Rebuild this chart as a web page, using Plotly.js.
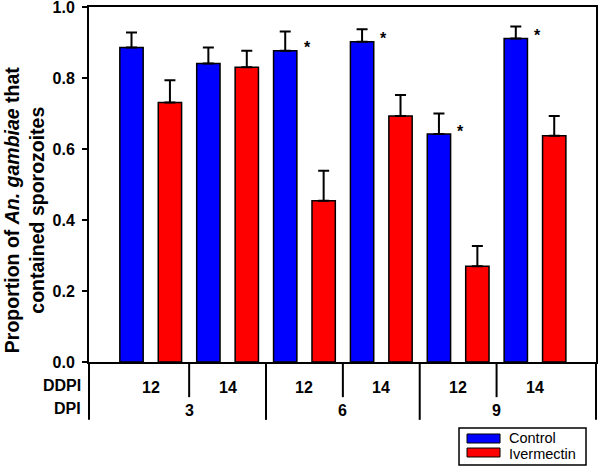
<!DOCTYPE html>
<html>
<head>
<meta charset="utf-8">
<script src="https://cdn.plot.ly/plotly-3.0.1.min.js"></script>
<style>html,body{margin:0;padding:0;background:#fff;}#chart{width:600px;height:467px;}</style>
</head>
<body>
<div id="chart"></div>
<script>
// ---- data ----
const ddpiLabels = ['12', '14', '12', '14', '12', '14'];
const dpiLabels = ['3', '6', '9'];
const controlValues = [0.886, 0.841, 0.877, 0.902, 0.642, 0.911];
const controlErrors = [0.042, 0.045, 0.054, 0.035, 0.058, 0.034];
const ivermectinValues = [0.731, 0.830, 0.454, 0.693, 0.270, 0.637];
const ivermectinErrors = [0.063, 0.047, 0.085, 0.059, 0.057, 0.056];
const controlSignificant = [false, false, true, true, true, true];
const seriesNames = ['Control', 'Ivermectin'];
const seriesColors = ['#0000ff', '#ff0000'];

// ---- positions (one slot per bar, two bars per DDPI group) ----
const ctrlX = ddpiLabels.map((_, i) => 2 * i);
const ivmX = ddpiLabels.map((_, i) => 2 * i + 1);
const zeros = ddpiLabels.map(() => 0);

const FONT = 'Liberation Sans, Arial, Helvetica, sans-serif';
const barStyle = (c) => ({color: c, line: {color: '#000', width: 1.5}});
const errStyle = (arr) => ({type: 'data', symmetric: false, array: arr, arrayminus: zeros,
  color: '#000', thickness: 2, width: 5.5});

const traces = [
  {type: 'bar', name: seriesNames[0], x: ctrlX, y: controlValues, width: 0.607,
   marker: barStyle(seriesColors[0]), error_y: errStyle(controlErrors)},
  {type: 'bar', name: seriesNames[1], x: ivmX, y: ivermectinValues, width: 0.607,
   marker: barStyle(seriesColors[1]), error_y: errStyle(ivermectinErrors)}
];

const shapes = [];
const annotations = [];
const lineStyle = {color: '#000', width: 2};
const labFont = {family: FONT, size: 16, weight: 'bold', color: '#000'};
// separators below the axis
ddpiLabels.forEach((_, i) => {
  if (i === ddpiLabels.length - 1) return;
  const xpos = 2 * i + 1.5;
  const major = (i % 2 === 1);
  shapes.push({type: 'line', xref: 'x', yref: 'paper', x0: xpos, x1: xpos,
    y0: 0, y1: major ? -0.163 : -0.099, line: lineStyle});
});
// outer edges extended down
[0, 1].forEach(px => shapes.push({type: 'line', xref: 'paper', yref: 'paper', x0: px, x1: px,
  y0: 0, y1: -0.163, line: lineStyle}));

// DDPI labels
ddpiLabels.forEach((lab, i) => annotations.push({xref: 'x', yref: 'paper', x: 2 * i + 0.5, y: -0.071,
  text: lab, showarrow: false, font: labFont, xanchor: 'center', yanchor: 'middle'}));
// DPI labels
dpiLabels.forEach((lab, j) => annotations.push({xref: 'x', yref: 'paper', x: 4 * j + 1.5, y: -0.136,
  text: lab, showarrow: false, font: labFont, xanchor: 'center', yanchor: 'middle'}));
// row headers
[['DDPI', -0.066], ['DPI', -0.131]].forEach(([t, y]) => annotations.push({xref: 'paper', yref: 'paper',
  x: -0.0118, y: y, text: t, showarrow: false, xanchor: 'right', yanchor: 'middle', font: labFont}));
// significance stars
controlSignificant.forEach((s, i) => {
  if (!s) return;
  annotations.push({xref: 'x', yref: 'y', x: ctrlX[i] + 0.57, y: controlValues[i], yshift: 3,
    text: '*', showarrow: false, xanchor: 'center', yanchor: 'middle',
    font: {family: FONT, size: 16, weight: 'bold', color: '#000'}});
});
// y-axis title
annotations.push({xref: 'paper', yref: 'paper', x: -0.128, y: 0.428, textangle: -90,
  text: 'Proportion of <i>An. gambiae</i> that<br>contained sporozoites', showarrow: false,
  xanchor: 'center', yanchor: 'middle', align: 'center',
  font: {family: FONT, size: 19.5, weight: 'bold', color: '#000'}});

// custom legend
shapes.push({type: 'rect', xref: 'paper', yref: 'paper', x0: 0.7298, x1: 0.9803, y0: -0.2901, y1: -0.1859,
  line: {color: '#000', width: 1.5}, fillcolor: '#fff'});
[[-0.2282, -0.2028], [-0.2676, -0.2423]].forEach(([y0, y1], k) => {
  shapes.push({type: 'rect', xref: 'paper', yref: 'paper', x0: 0.7456, x1: 0.8107, y0: y0, y1: y1,
    line: {color: '#000', width: 1}, fillcolor: seriesColors[k]});
});
[-0.2127, -0.2578].forEach((y, k) => annotations.push({xref: 'paper', yref: 'paper', x: 0.8264, y: y,
  text: seriesNames[k], showarrow: false, xanchor: 'left', yanchor: 'middle', valign: 'middle',
  borderpad: 0, font: {family: FONT, size: 14.5, color: '#000'}}));

const layout = {
  width: 600, height: 467,
  margin: {l: 89, r: 4, t: 7, b: 105, pad: 0},
  paper_bgcolor: '#fff', plot_bgcolor: '#fff',
  showlegend: false,
  font: {family: FONT, color: '#000'},
  xaxis: {range: [-1.106, 12.087], showticklabels: false, ticks: '', showgrid: false,
    zeroline: false, showline: true, mirror: true, linecolor: '#000', linewidth: 2},
  yaxis: {range: [0, 1], tickvals: [0, 0.2, 0.4, 0.6, 0.8, 1.0], tickformat: '.1f',
    ticks: 'outside', ticklen: 5, tickwidth: 1.5, tickcolor: '#000', ticklabelstandoff: 4,
    ticklabeloverflow: 'allow',
    tickfont: {family: FONT, size: 16, weight: 'bold', color: '#000'},
    showgrid: false, zeroline: false, showline: true, mirror: true, linecolor: '#000', linewidth: 2},
  shapes: shapes,
  annotations: annotations
};

Plotly.newPlot('chart', traces, layout, {displayModeBar: false, staticPlot: true});
</script>
</body>
</html>
